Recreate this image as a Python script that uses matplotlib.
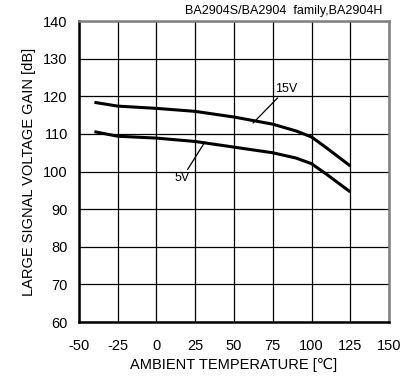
import numpy as np
import matplotlib.pyplot as plt

plt.rcParams['font.family'] = ['Liberation Sans', 'DejaVu Sans']
plt.rcParams['axes.unicode_minus'] = False

# curves
temp = [-40, -25, 0, 25, 50, 75, 90, 100, 110, 125]
gain_15v = [118.4, 117.4, 116.8, 116.0, 114.5, 112.6, 110.8, 109.2, 106.2, 101.5]
gain_5v = [110.6, 109.4, 108.9, 108.0, 106.5, 105.0, 103.6, 102.1, 99.2, 94.6]

xticks = [-50, -25, 0, 25, 50, 75, 100, 125, 150]
yticks = [60, 70, 80, 90, 100, 110, 120, 130, 140]

fig = plt.figure(figsize=(4.13, 3.83), dpi=100)
ax = fig.add_axes([0.191, 0.159, 0.751, 0.786])

ax.plot(temp, gain_15v, color='black', lw=2.2, solid_capstyle='butt')
ax.plot(temp, gain_5v, color='black', lw=2.2, solid_capstyle='butt')

ax.set_xlim(-50, 150)
ax.set_ylim(60, 140)
ax.set_xticks(xticks)
ax.set_yticks(yticks)
ax.grid(True, color='black', lw=0.9)
ax.tick_params(length=0, labelsize=10.5)
ax.tick_params(axis='x', pad=12)
ax.tick_params(axis='y', pad=8)

for s in ['left', 'bottom']:
    ax.spines[s].set_color('black')
    ax.spines[s].set_linewidth(1.8)
for s in ['top', 'right']:
    ax.spines[s].set_color('#808080')
    ax.spines[s].set_linewidth(1.8)

ax.set_xlabel('AMBIENT TEMPERATURE [℃]', fontsize=10.5, labelpad=4)
ax.set_ylabel('LARGE SIGNAL VOLTAGE GAIN [dB]', fontsize=10.5, labelpad=5)

# labels with leader lines
ax.annotate('15V', xy=(62.3, 112.9), xytext=(76.5, 120.3), fontsize=9,
            ha='left', va='bottom',
            arrowprops=dict(arrowstyle='-', color='black', lw=0.9, shrinkA=0, shrinkB=0))
ax.annotate('5V', xy=(31.3, 107.9), xytext=(16.5, 99.8), fontsize=9,
            ha='center', va='top',
            arrowprops=dict(arrowstyle='-', color='black', lw=0.9, shrinkA=0, shrinkB=0))

fig.text(0.927, 0.955, 'BA2904S/BA2904  family,BA2904H', fontsize=9,
         ha='right', va='bottom')

fig.savefig('out.png', dpi=100)
